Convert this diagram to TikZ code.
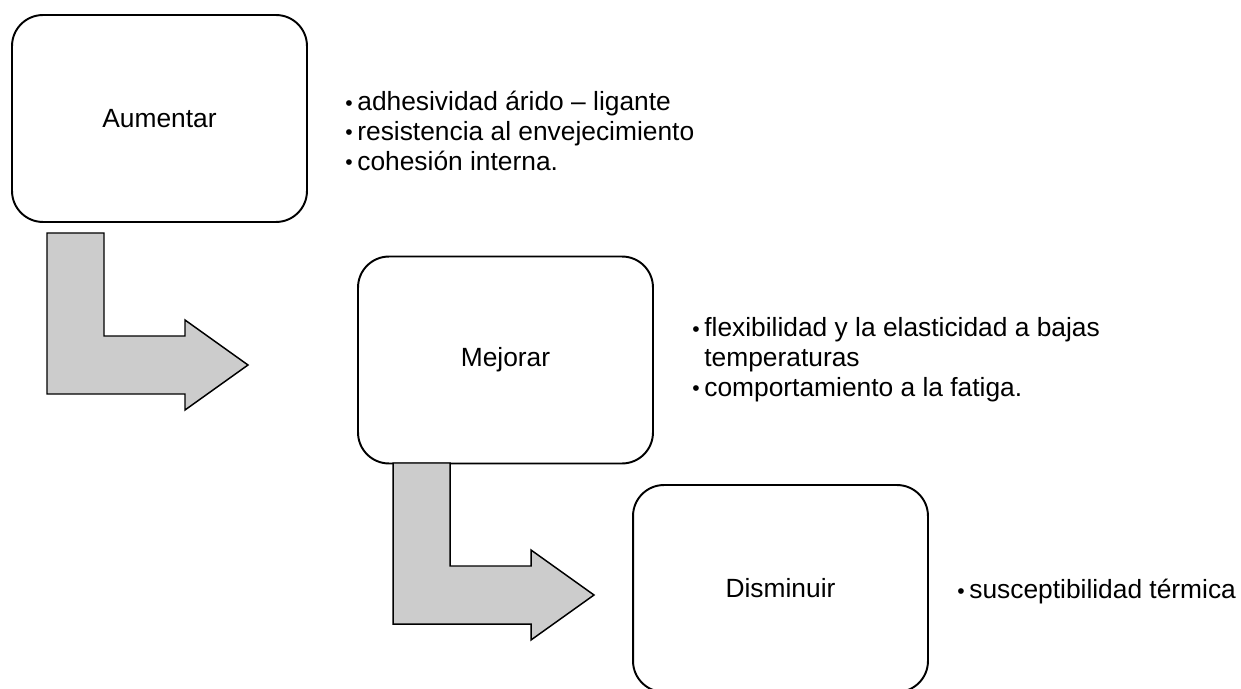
\documentclass[tikz,border=0pt]{standalone}
\usepackage{fontspec}
\setmainfont{Liberation Sans}
\usetikzlibrary{positioning}

\newcommand{\bul}{\makebox[0.24cm][l]{\raisebox{0.4pt}{\fontsize{12}{12}\selectfont\textbullet}}}
\newcommand{\cont}{\hspace*{0.24cm}}
\newcommand{\bentarrow}[1]{\filldraw[bent] (#1) -- ++(57,0) -- ++(0,103) -- ++(81,0) -- ++(0,-16)
  -- ++(63,45) -- ++(-63,45) -- ++(0,-16) -- ++(-138,0) -- cycle;}

\begin{document}
\begin{tikzpicture}[x=0.02cm,y=-0.02cm,
  box/.style={rectangle,draw,line width=1.1pt,rounded corners=0.62cm,minimum width=5.9cm,minimum height=4.14cm,font=\fontsize{15}{17}\selectfont},
  items/.style={align=left,anchor=west,inner sep=0pt,font=\fontsize{15}{17}\selectfont},
  bent/.style={draw,fill=black!20,line width=0.85pt}]
\clip (0,0) rectangle (1241,689);

\node[box] (aum) at (159.5,118.5) {Aumentar};
\node[box] (mej) at (505.5,360) {Mejorar};
\node[box] (dis) at (780.5,588.5) {Disminuir};

\node[items] (laum) at (345,131) {\bul adhesividad árido – ligante\\ \bul resistencia al envejecimiento\\ \bul cohesión interna.};
\node[items] (lmej) at (692,360) {\bul flexibilidad y la elasticidad a bajas\\ \cont temperaturas\\ \bul comportamiento a la fatiga.};
\node[items] (ldis) at (957,592) {\bul susceptibilidad térmica};

\coordinate (a1) at (47,233);
\coordinate (a2) at (393,463);
\bentarrow{a1}
\bentarrow{a2}
\end{tikzpicture}
\end{document}
